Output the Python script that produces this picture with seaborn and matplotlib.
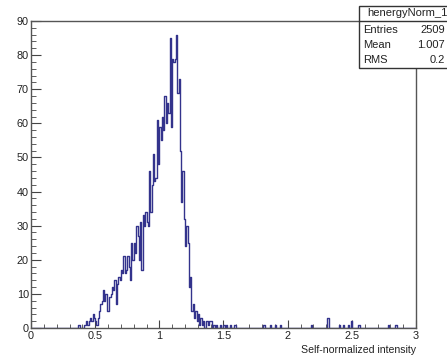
import numpy as np
import pandas as pd
import matplotlib
matplotlib.use('Agg')
import matplotlib.pyplot as plt
import seaborn as sns

# histogram contents, 300 bins of width 0.01 between 0 and 3
bin_width = 0.01
first_bin = 0.37
core_counts = [1, 0, 0, 0, 1, 1, 2, 1, 2, 3,
               2, 4, 3, 2, 1, 3, 5, 7, 8, 11,
               8, 10, 5, 5, 9, 10, 12, 11, 14, 7,
               13, 15, 14, 17, 16, 21, 16, 17, 21, 18,
               14, 25, 20, 25, 22, 30, 27, 20, 31, 17,
               33, 30, 34, 31, 30, 46, 34, 42, 51, 43,
               44, 61, 48, 59, 55, 62, 58, 68, 60, 66,
               63, 85, 59, 79, 78, 79, 86, 69, 73, 52,
               37, 46, 32, 24, 30, 25, 12, 15, 5, 7,
               3, 5, 2, 4, 1, 3, 1, 2, 0, 2,
               2, 1, 2, 2, 0, 1, 0, 1, 0, 0, 1]
tail_pos = [1.50, 1.52, 1.55, 1.58, 1.59, 1.81, 1.86, 1.90, 1.94, 2.18,
            2.31, 2.40, 2.43, 2.47, 2.49, 2.55, 2.78, 2.84]
tail_counts = [1, 1, 1, 1, 1, 1, 1, 1, 1, 1,
               3, 1, 1, 1, 2, 1, 1, 1]

stats_title = 'henergyNorm_1'
stats_names = ['Entries', 'Mean', 'RMS']
stats_values = ['2509', '1.007', '0.2']

core_x = first_bin + bin_width * (np.arange(len(core_counts)) + 0.5)
tail_x = np.array(tail_pos) + bin_width * 0.5
df = pd.DataFrame({'x': np.concatenate([core_x, tail_x]),
                   'w': np.concatenate([core_counts, tail_counts])})

sns.set_style('ticks')
plt.rcParams['font.family'] = ['Liberation Sans', 'DejaVu Sans']

fig = plt.figure(figsize=(4.47, 3.6), dpi=100)
ax = fig.add_axes([31/447, 1-328/360, 385/447, 307/360])

sns.histplot(data=df, x='x', weights='w', bins=300, binrange=(0, 3),
             element='step', fill=False, color='#33338c', linewidth=1, ax=ax)

ax.set_xlim(0, 3)
ax.set_ylim(0, 90)
ax.set_xticks(np.arange(0, 3.01, 0.5))
ax.set_xticklabels(['0', '0.5', '1', '1.5', '2', '2.5', '3'])
ax.set_xticks(np.arange(0, 3.01, 0.1), minor=True)
ax.set_yticks(np.arange(0, 91, 10))
ax.set_yticks(np.arange(0, 91, 2), minor=True)
ax.tick_params(axis='both', which='both', direction='in', labelsize=7.8,
               color='#444444', labelcolor='#222222')
ax.tick_params(axis='y', which='major', length=7.5, pad=1.5)
ax.tick_params(axis='y', which='minor', length=3.8)
ax.tick_params(axis='x', which='major', length=6, pad=2)
ax.tick_params(axis='x', which='minor', length=3)
ax.set_ylabel('')
ax.set_xlabel('Self-normalized intensity', fontsize=7.6, color='#222222')
ax.xaxis.set_label_coords(1.0, -0.055)
ax.xaxis.label.set_horizontalalignment('right')
for s in ax.spines.values():
    s.set_color('#555555')
    s.set_linewidth(1)

# stats box
box = plt.Rectangle((359/447, 1-68/360), 100/447, 62/360, transform=fig.transFigure,
                    facecolor='white', edgecolor='#333333', linewidth=1, zorder=5)
fig.add_artist(box)
fig.add_artist(plt.Line2D([359/447, 1.1], [1-21/360, 1-21/360], transform=fig.transFigure,
                          color='#333333', linewidth=1, zorder=6))
fig.text(367/447, 1-13.5/360, stats_title, fontsize=8, va='center', ha='left',
         color='#222222', zorder=7)
for i, (n, v) in enumerate(zip(stats_names, stats_values)):
    y = 1 - (30 + 15*i)/360
    fig.text(363/447, y, n, fontsize=8, va='center', ha='left', color='#222222', zorder=7)
    fig.text(445/447, y, v, fontsize=8, va='center', ha='right', color='#222222', zorder=7)

fig.savefig('out.png', dpi=100)
